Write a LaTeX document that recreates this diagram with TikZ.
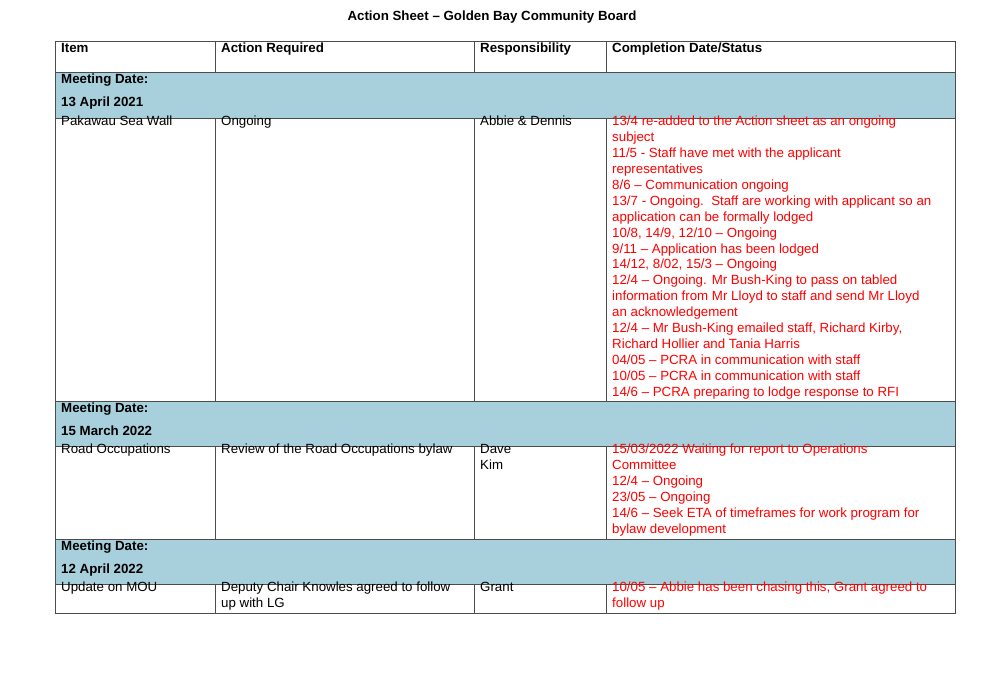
\documentclass[tikz,border=0pt]{standalone}
\usepackage{fontspec}
\setmainfont{Liberation Sans}
\begin{document}
\begin{tikzpicture}[x=1pt,y=-1pt,
  cell/.style={anchor=north west,inner sep=0pt,align=left,font=\fontsize{13.3}{15.9}\selectfont},
  redcell/.style={cell,text=red},
  hdr/.style={cell,font=\fontsize{13.3}{15.9}\selectfont\bfseries},
  grid/.style={draw=black!70,line width=0.6pt}]
\definecolor{band}{RGB}{168,207,220}
\useasboundingbox (0,0) rectangle (985,675);
\node[font=\fontsize{13.3}{16}\selectfont\bfseries] (title) at (492,17) {Action Sheet – Golden Bay Community Board};
% bands
\fill[band] (55,72) rectangle (955,118);
\fill[band] (55,401) rectangle (955,446);
\fill[band] (55,539) rectangle (955,584);
% grid
\draw[grid] (55,41) rectangle (955,613);
\foreach \y in {72,118,401,446,539,584} \draw[grid] (55,\y) -- (955,\y);
\foreach \x in {215,474,606} {
  \draw[grid] (\x,41) -- (\x,72);
  \draw[grid] (\x,118) -- (\x,401);
  \draw[grid] (\x,446) -- (\x,539);
  \draw[grid] (\x,584) -- (\x,613);
}
% header
\node[hdr] (h1) at (61,43) {Item};
\node[hdr] (h2) at (221,43) {Action Required};
\node[hdr] (h3) at (480,43) {Responsibility};
\node[hdr] (h4) at (612,43) {Completion Date/Status};
% band texts
\node[hdr] (m1) at (61,74) {Meeting Date:};
\node[hdr] (d1) at (61,97) {13 April 2021};
\node[hdr] (m2) at (61,403) {Meeting Date:};
\node[hdr] (d2) at (61,426) {15 March 2022};
\node[hdr] (m3) at (61,541) {Meeting Date:};
\node[hdr] (d3) at (61,564) {12 April 2022};
% row 1
\node[cell] (r1a) at (61,116) {Pakawau Sea Wall};
\node[cell] (r1b) at (221,116) {Ongoing};
\node[cell] (r1c) at (480,116) {Abbie \& Dennis};
\node[redcell] (r1d) at (612,116) {13/4 re-added to the Action sheet as an ongoing\\subject\\11/5 - Staff have met with the applicant\\representatives\\8/6 – Communication ongoing\\13/7 - Ongoing.\ \ Staff are working with applicant so an\\application can be formally lodged\\10/8, 14/9, 12/10 – Ongoing\\9/11 – Application has been lodged\\14/12, 8/02, 15/3 – Ongoing\\12/4 – Ongoing. Mr Bush-King to pass on tabled\\information from Mr Lloyd to staff and send Mr Lloyd\\an acknowledgement\\12/4 – Mr Bush-King emailed staff, Richard Kirby,\\Richard Hollier and Tania Harris\\04/05 – PCRA in communication with staff\\10/05 – PCRA in communication with staff\\14/6 – PCRA preparing to lodge response to RFI};
% row 2
\node[cell] (r2a) at (61,444) {Road Occupations};
\node[cell] (r2b) at (221,444) {Review of the Road Occupations bylaw};
\node[cell] (r2c) at (480,444) {Dave\\Kim};
\node[redcell] (r2d) at (612,444) {15/03/2022 Waiting for report to Operations\\Committee\\12/4 – Ongoing\\23/05 – Ongoing\\14/6 – Seek ETA of timeframes for work program for\\bylaw development};
% row 3
\node[cell] (r3a) at (61,582) {Update on MOU};
\node[cell] (r3b) at (221,582) {Deputy Chair Knowles agreed to follow\\up with LG};
\node[cell] (r3c) at (480,582) {Grant};
\node[redcell] (r3d) at (612,582) {10/05 – Abbie has been chasing this, Grant agreed to\\follow up};
\end{tikzpicture}
\end{document}
